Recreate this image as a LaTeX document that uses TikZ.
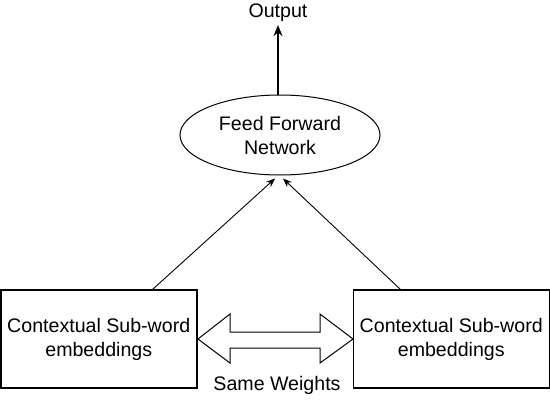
\documentclass[tikz,border=0pt]{standalone}
\usepackage{fontspec}
\setmainfont{Liberation Sans}
\usetikzlibrary{arrows.meta,shapes.geometric}
\begin{document}
\begin{tikzpicture}[x=1pt,y=-1pt,
  txt/.style={font=\fontsize{19.6}{24}\selectfont,align=center,inner sep=0pt},
  boxnode/.style={draw,line width=1.5pt,minimum width=196pt,minimum height=98pt,txt},
  ellnode/.style={draw,ellipse,line width=1pt,minimum width=200pt,minimum height=80pt,txt},
  conn/.style={line width=0.9pt,-{Stealth[length=9pt,width=7pt]}},
  outconn/.style={line width=1.8pt,-{Stealth[length=11pt,width=9pt]}}
]
\useasboundingbox (0,0) rectangle (550,400);
\node[ellnode] (f) at (280,135) {Feed Forward\\Network};
\node[txt] (o) at (278,13) {Output};
\draw[outconn] (f.north -| o.south) -- ([yshift=-3pt]o.south);
\node[boxnode] (l) at (98.75,339) {Contextual Sub-word\\embeddings};
\node[boxnode] (r) at (451.25,339) {Contextual Sub-word\\embeddings};
\node[txt] (s) at (277,385) {Same Weights};
\draw[conn] ([xshift=54pt]l.north) -- ([xshift=-5pt,yshift=-3pt]f.south);
\draw[conn] ([xshift=-51pt]r.north) -- ([xshift=3pt,yshift=-3pt]f.south);
\draw[line width=1pt,line join=miter]
  (198,339) -- (230,314) -- (230,332) -- (320,332) -- (320,314) -- (353,339)
  -- (320,363) -- (320,348) -- (230,348) -- (230,363) -- cycle;
\end{tikzpicture}
\end{document}
